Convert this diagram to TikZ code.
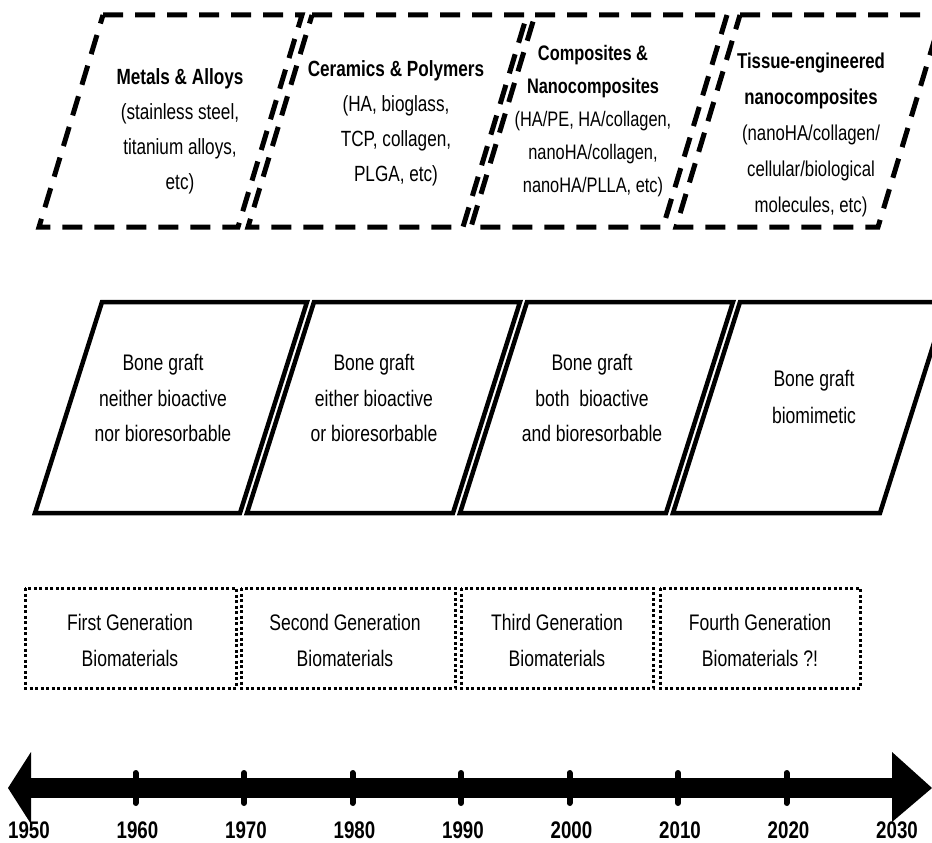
\documentclass[tikz,border=0pt]{standalone}
\usepackage{fontspec}
\setmainfont[FakeStretch=0.78]{Liberation Sans}
\begin{document}
\begin{tikzpicture}[x=1pt,y=-1pt,
  dashbox/.style={draw=black,line width=5pt,dash pattern=on 20pt off 12pt,line join=miter},
  solidbox/.style={draw=black,line width=4.5pt,line join=miter},
  dotbox/.style={draw=black,line width=3pt,dash pattern=on 3pt off 2.5pt},
  toptxt/.style={inner sep=0pt,align=center,font=\fontsize{22}{35}\selectfont},
  midtxt/.style={inner sep=0pt,align=center,font=\fontsize{22.5}{35.5}\selectfont},
  gentxt/.style={inner sep=0pt,align=center,font=\fontsize{22.5}{36}\selectfont},
  yeartxt/.style={inner sep=0pt,font=\bfseries\fontsize{24}{28}\selectfont},
  tick/.style={line width=6pt,line cap=round}]
\useasboundingbox (0,0) rectangle (932,843);
\begin{scope}
\clip (0,0) rectangle (932,843);
% top dashed parallelograms
\draw[dashbox] (103,15) -- (302,15) -- (238,227) -- (39,227) -- cycle;
\draw[dashbox] (312,15) -- (527,15) -- (463,227) -- (248,227) -- cycle;
\draw[dashbox] (535,15) -- (727,15) -- (663,227) -- (471,227) -- cycle;
\draw[dashbox] (740,15) -- (942,15) -- (878,227) -- (676,227) -- cycle;
% middle solid parallelograms
\draw[solidbox] (102,302) -- (307,302) -- (240,513) -- (35,513) -- cycle;
\draw[solidbox] (314,302) -- (520,302) -- (453,513) -- (247,513) -- cycle;
\draw[solidbox] (527,302) -- (733,302) -- (666,513) -- (460,513) -- cycle;
\draw[solidbox] (740,302) -- (947,302) -- (880,513) -- (673,513) -- cycle;
\end{scope}
% top texts
\node[toptxt] (t1) at (180,131.5) {\textbf{Metals \& Alloys}\\(stainless steel,\\titanium alloys,\\etc)};
\node[toptxt] (t2) at (396,123) {\textbf{Ceramics \& Polymers}\\(HA, bioglass,\\TCP, collagen,\\PLGA, etc)};
\node[toptxt,font=\fontsize{21}{33}\selectfont] (t3) at (593,121.5) {\textbf{Composites \&}\\\textbf{Nanocomposites}\\(HA/PE, HA/collagen,\\nanoHA/collagen,\\nanoHA/PLLA, etc)};
\node[toptxt,font=\fontsize{21.5}{36}\selectfont] (t4) at (811,135) {\textbf{Tissue-engineered}\\\textbf{nanocomposites}\\(nanoHA/collagen/\\cellular/biological\\molecules, etc)};
% middle texts
\node[midtxt] (m1) at (163,398) {Bone graft\\neither bioactive\\nor bioresorbable};
\node[midtxt] (m2) at (374,398) {Bone graft\\either bioactive\\or bioresorbable};
\node[midtxt] (m3) at (592,398) {Bone graft\\both\ \ bioactive\\and bioresorbable};
\node[midtxt,font=\fontsize{22.5}{37}\selectfont] (m4) at (814,396.5) {Bone graft\\biomimetic};
% generation boxes
\draw[dotbox] (25,588) rectangle (236,688);
\draw[dotbox] (241,588) rectangle (455,688);
\draw[dotbox] (461,588) rectangle (653,688);
\draw[dotbox] (660,588) rectangle (860,688);
\node[gentxt] (g1) at (130,640.5) {First Generation\\Biomaterials};
\node[gentxt] (g2) at (345,640.5) {Second Generation\\Biomaterials};
\node[gentxt] (g3) at (557,640.5) {Third Generation\\Biomaterials};
\node[gentxt] (g4) at (760,640.5) {Fourth Generation\\Biomaterials ?!};
% axis
\coordinate (axL) at (24,788);
\coordinate (axR) at (895,788);
\draw[line width=20pt] (axL) -- (axR);
\fill (892,752) -- (932,788) -- (892,822) -- cycle;
\fill (31,752) -- (8,788) -- (31,824) -- cycle;
\foreach \yr [count=\i from 0] in {1950,1960,1970,1980,1990,2000,2010,2020,2030} {
  \pgfmathsetmacro{\xx}{27+108.5*\i}
  \ifnum\i>0 \ifnum\i<8 \draw[tick] (\xx,773) -- (\xx,803); \fi\fi
  \node[yeartxt] (y\yr) at (\xx+2,830) {\yr};
}
\end{tikzpicture}
\end{document}
